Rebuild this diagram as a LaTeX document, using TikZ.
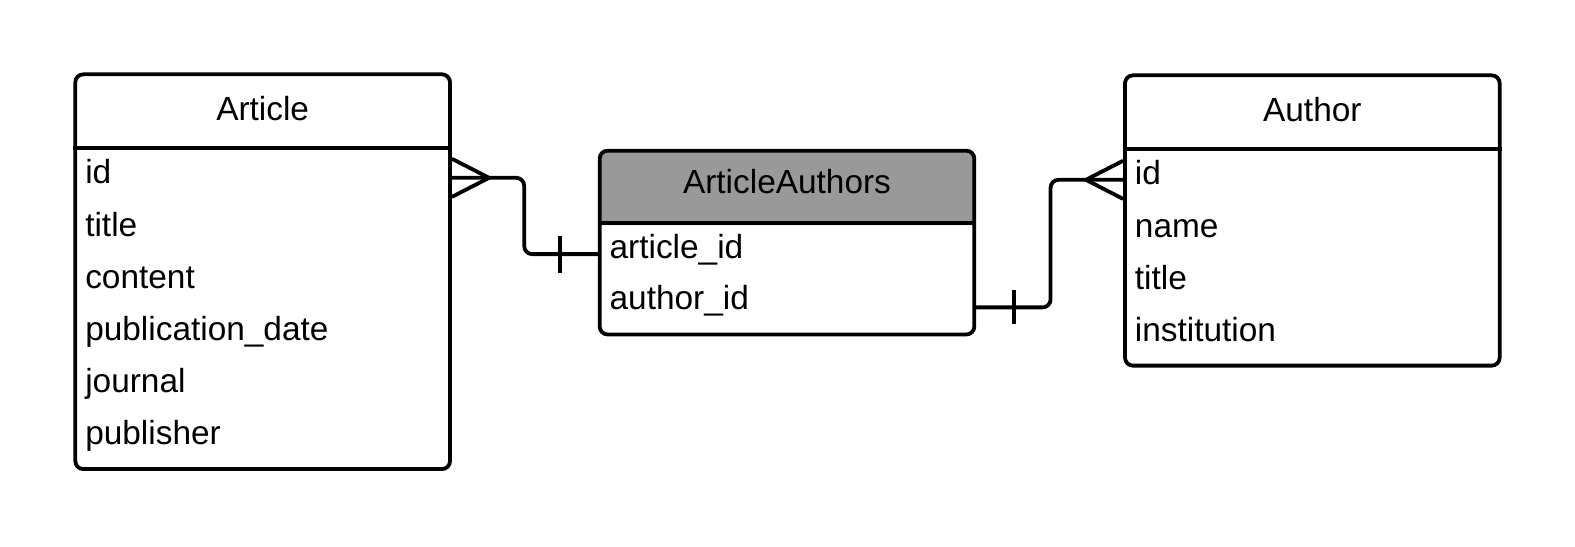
\documentclass[tikz,border=0pt]{standalone}
\usepackage{fontspec}
\setmainfont{Liberation Sans}
\definecolor{hdr}{HTML}{999999}
\begin{document}
\begin{tikzpicture}[x=0.50223pt,y=-0.50223pt, line width=1.9pt,
  ent/.style={draw, rounded corners=4pt, inner sep=0pt, minimum width=187.33pt},
  fld/.style={anchor=base west, inner sep=0pt, font=\fontsize{16.7}{20}\selectfont},
  ttl/.style={anchor=base, inner sep=0pt, font=\fontsize{16.7}{20}\selectfont},
  rel/.style={line width=1.9pt, rounded corners=4pt}]
\useasboundingbox (0,0) rectangle (1568,544);

% Article
\node[ent, minimum height=197.38pt] (article) at (261.5,270.5) {};
\draw ([yshift=-37.67pt]article.north west) -- ([yshift=-37.67pt]article.north east);
\node[ttl] (atitle) at (261.5,120) {Article};
\node[fld] (aid) at (83,183) {id};
\node[fld] (atit) at (83,235) {title};
\node[fld] (acon) at (83,287) {content};
\node[fld] (apub) at (83,339) {publication\_date};
\node[fld] (ajou) at (83,391) {journal};
\node[fld] (apubl) at (83,443) {publisher};

% ArticleAuthors
\fill[hdr] (597,224) [rounded corners=4pt] -- (597,150) -- (970,150) [sharp corners] -- (970,224) -- cycle;
\node[ent, minimum height=91.91pt] (aa) at (783.5,241.5) {};
\draw ([yshift=-37.17pt]aa.north west) -- ([yshift=-37.17pt]aa.north east);
\node[ttl] (aatitle) at (783.5,193) {ArticleAuthors};
\node[fld] (aaid) at (605,257) {article\_id};
\node[fld] (aauth) at (605,308) {author\_id};

% Author
\node[ent, minimum height=145.15pt] (author) at (1306.5,219.5) {};
\draw ([yshift=-37.67pt]author.north west) -- ([yshift=-37.67pt]author.north east);
\node[ttl] (autitle) at (1306.5,121) {Author};
\node[fld] (auid) at (1128,184) {id};
\node[fld] (auname) at (1128,236) {name};
\node[fld] (autit) at (1128,288) {title};
\node[fld] (auinst) at (1128,340) {institution};

% connector points
\coordinate (p1) at ([yshift=3pt]article.east |- aid.base);
\coordinate (q1) at ([yshift=2pt]aa.west |- aaid.base);
\coordinate (q2) at ([yshift=1pt]aa.east |- aauth.base);
\coordinate (p2) at ([yshift=2.5pt]author.west |- auid.base);

% Article -- ArticleAuthors
\draw[rel] (p1) -- ++(72,0) |- (q1);
\draw (p1) ++(0,-19) -- ++(37,19) -- ++(-37,19);
\draw (q1) ++(-37.5,-18) -- ++(0,37);

% ArticleAuthors -- Author
\draw[rel] (q2) -- ++(74,0) |- (p2);
\draw (p2) ++(0,-19) -- ++(-37,19) -- ++(37,19);
\draw (q2) ++(37.5,-17) -- ++(0,34);
\end{tikzpicture}
\end{document}
